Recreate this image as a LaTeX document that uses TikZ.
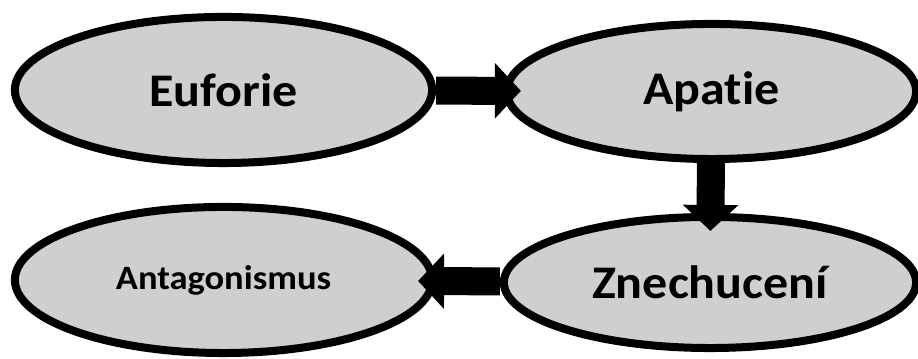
\documentclass[tikz,border=0pt]{standalone}
\usepackage{fontspec}
\setmainfont{Carlito}[FakeStretch=1.07, RawFeature={-liga;-clig;-calt;-dlig}]
\usepackage{tikz}
\usetikzlibrary{shapes.geometric}
\usetikzlibrary{arrows.meta}
\definecolor{phasegray}{RGB}{208,206,206}
\newcommand{\bigphasefont}{\fontsize{13.3pt}{16pt}\selectfont\bfseries}
\newcommand{\smallphasefont}{\fontsize{9.7pt}{12pt}\selectfont\bfseries}
\tikzstyle{phase}=[ellipse, draw, fill=phasegray, line width=0.08cm, inner sep=0]
\tikzstyle{flow}=[line width=0.28cm, -{Triangle[length=0.26cm, width=0.54cm]}, shorten >=-0.18cm]

\begin{document}
\begin{tikzpicture}[x=0.01cm, y=0.01cm]
        \useasboundingbox (0, 0) rectangle (918, 359);
        \node[phase, minimum width=4.17cm, minimum height=1.46cm, font=\bigphasefont] (euforie) at (223.5, 269) {Euforie};
        \node[phase, minimum width=4.09cm, minimum height=1.35cm, font=\bigphasefont] (apatie) at (711.5, 267.5) {Apatie};
        \node[phase, minimum width=4.12cm, minimum height=1.31cm, font=\bigphasefont] (znechuceni) at (710, 76.5) {Znechucení};
        \node[phase, minimum width=4.17cm, minimum height=1.46cm, font=\smallphasefont] (antagonismus) at (223.5, 79) {Antagonismus};
        \draw[flow] (euforie) -- (apatie);
        \draw[flow] (apatie) -- (znechuceni);
        \draw[flow] (znechuceni) -- (antagonismus);
    \end{tikzpicture}
\end{document}
